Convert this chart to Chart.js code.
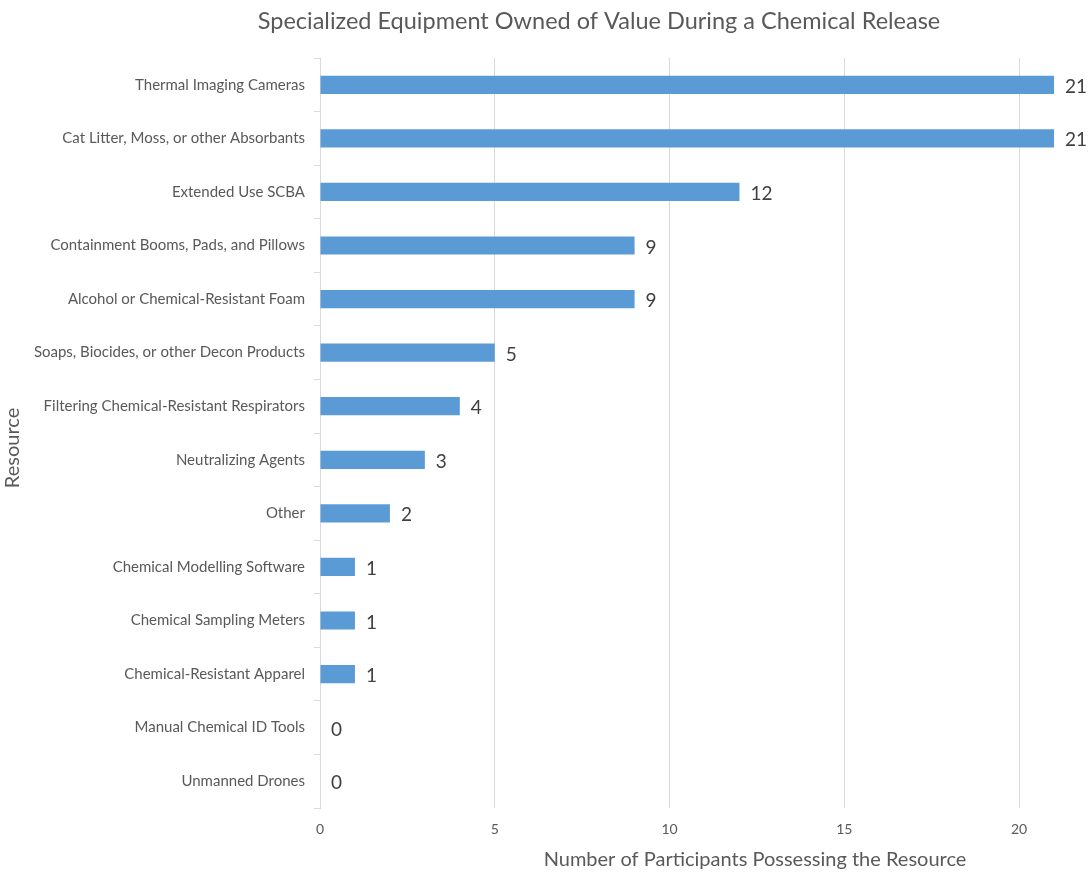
<!DOCTYPE html>
<html>
<head>
<meta charset="utf-8">
<script src="https://cdn.jsdelivr.net/npm/chart.js@4"></script>
<style>
  html, body { margin: 0; padding: 0; background: #fff; }
  #wrap { width: 1089px; height: 873px; }
</style>
</head>
<body>
<div id="wrap"><canvas id="chart" width="1089" height="873"></canvas></div>
<script>
const resources = [
  "Thermal Imaging Cameras",
  "Cat Litter, Moss, or other Absorbants",
  "Extended Use SCBA",
  "Containment Booms, Pads, and Pillows",
  "Alcohol or Chemical-Resistant Foam",
  "Soaps, Biocides, or other Decon Products",
  "Filtering Chemical-Resistant Respirators",
  "Neutralizing Agents",
  "Other",
  "Chemical Modelling Software",
  "Chemical Sampling Meters",
  "Chemical-Resistant Apparel",
  "Manual Chemical ID Tools",
  "Unmanned Drones"
];
const participants = [21, 21, 12, 9, 9, 5, 4, 3, 2, 1, 1, 1, 0, 0];
const xTicks = [0, 5, 10, 15, 20];

const chartTitle = "Specialized Equipment Owned of Value During a Chemical Release";
const xTitle = "Number of Participants Possessing the Resource";
const yTitle = "Resource";

const FONT = "Lato, 'Open Sans', sans-serif";
const textColor = '#595959';
const gridColor = '#d9d9d9';

// value labels at the end of each bar
const barLabels = {
  id: 'barLabels',
  afterDatasetsDraw(chart) {
    const { ctx } = chart;
    const meta = chart.getDatasetMeta(0);
    ctx.save();
    ctx.font = '19px ' + FONT;
    ctx.fillStyle = '#404040';
    ctx.textAlign = 'left';
    ctx.textBaseline = 'middle';
    meta.data.forEach((bar, i) => {
      ctx.fillText(String(participants[i]), bar.x + 11, bar.y + 2);
    });
    ctx.restore();
  }
};

// headings are placed by hand, off the canvas centre
const headings = {
  id: 'headings',
  afterDraw(chart) {
    const { ctx } = chart;
    ctx.save();
    ctx.fillStyle = textColor;
    ctx.textAlign = 'center';
    ctx.textBaseline = 'middle';
    ctx.font = '23.5px ' + FONT;
    ctx.fillText(chartTitle, 599, 21);
    ctx.font = '20px ' + FONT;
    ctx.fillText(xTitle, 755, 860);
    ctx.translate(13, 448);
    ctx.rotate(-Math.PI / 2);
    ctx.fillText(yTitle, 0, 0);
    ctx.restore();
  }
};

new Chart(document.getElementById('chart'), {
  type: 'bar',
  data: {
    labels: resources,
    datasets: [{
      data: participants,
      backgroundColor: '#5b9bd5',
      borderWidth: 0,
      categoryPercentage: 1,
      barPercentage: 0.34
    }]
  },
  options: {
    indexAxis: 'y',
    responsive: false,
    animation: false,
    layout: { padding: { top: 58, left: 0, right: 0, bottom: 0 } },
    plugins: {
      legend: { display: false },
      tooltip: { enabled: false },
      title: { display: false }
    },
    scales: {
      x: {
        min: 0,
        max: 22,
        afterBuildTicks: (scale) => {
          scale.ticks = xTicks.map((v) => ({ value: v }));
        },
        afterFit: (scale) => { scale.height = 65; },
        grid: { color: gridColor, drawTicks: false, lineWidth: 1 },
        border: { display: false },
        ticks: {
          color: textColor,
          font: { family: FONT, size: 14 },
          padding: 13
        }
      },
      y: {
        afterFit: (scale) => { scale.width = 320; },
        grid: {
          offset: true,
          drawOnChartArea: false,
          tickLength: 6,
          color: gridColor
        },
        border: { display: true, color: gridColor },
        ticks: {
          color: textColor,
          font: { family: FONT, size: 15 },
          padding: 9,
          autoSkip: false
        }
      }
    }
  },
  plugins: [barLabels, headings]
});
</script>
</body>
</html>
